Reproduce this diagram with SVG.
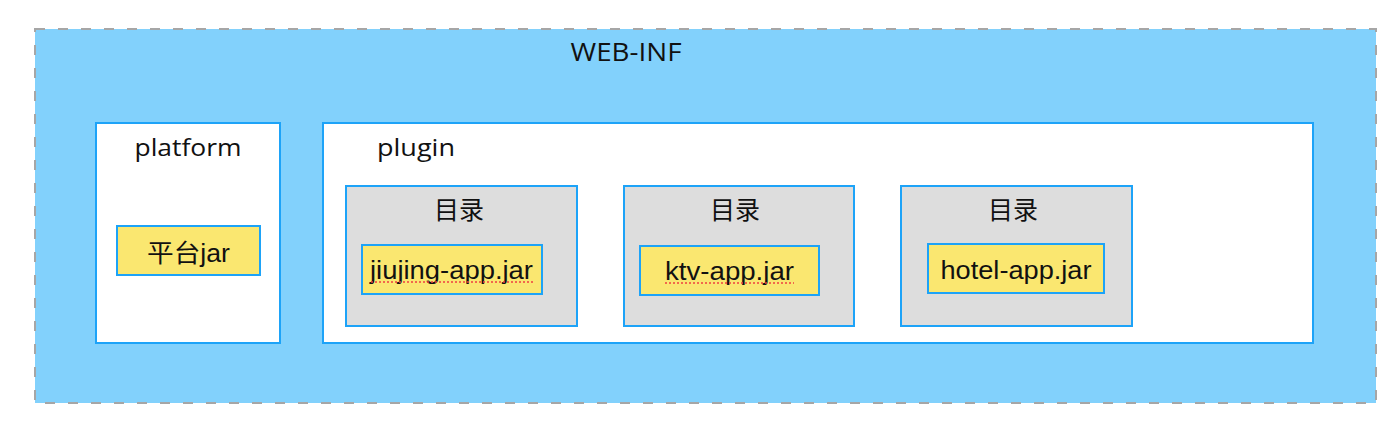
<svg xmlns="http://www.w3.org/2000/svg" width="1398" height="430" viewBox="0 0 1398 430">
<style>
.box{fill:#fff;stroke:#1DA3F8;stroke-width:2}
.dir{fill:#DDDDDD;stroke:#1DA3F8;stroke-width:2}
.jar{fill:#FAE770;stroke:#1DA3F8;stroke-width:2}
.t1{font-family:"Open Sans","Noto Sans",sans-serif;font-size:24px;fill:#111;text-anchor:middle}
.t2{font-family:"Liberation Sans",Arial,sans-serif;font-size:25px;fill:#111;text-anchor:middle}
.cjk{font-family:"Liberation Sans","Noto Sans CJK SC",sans-serif;font-size:25px;fill:#111;text-anchor:middle}
.sp{stroke:#F04040;stroke-width:1.5;stroke-dasharray:2 2;fill:none}
</style>
<rect width="1398" height="430" fill="#fff"/>
<g id="web-inf">
<rect x="35" y="29" width="1341" height="374" fill="#82D1FC" stroke="#A6A6A6" stroke-width="2" stroke-dasharray="10 13"/>
<text class="t1" x="626" y="61" textLength="111" lengthAdjust="spacingAndGlyphs" style="font-size:26px">WEB-INF</text>
</g>
<g id="platform">
<rect class="box" x="96" y="123" width="184" height="220"/>
<text class="t1" x="188" y="156" textLength="107" lengthAdjust="spacingAndGlyphs">platform</text>
</g>
<g id="platform-jar">
<rect class="jar" x="117" y="226" width="143" height="49"/>
<text class="cjk" x="188.5" y="262" textLength="83" lengthAdjust="spacingAndGlyphs">平台jar</text>
</g>
<g id="plugin">
<rect class="box" x="323" y="123" width="990" height="220"/>
<text class="t1" x="416" y="156" textLength="78" lengthAdjust="spacingAndGlyphs">plugin</text>
</g>
<g id="dir1">
<rect class="dir" x="346" y="186" width="231" height="140"/>
<text class="cjk" x="459" y="219">目录</text>
</g>
<g id="jar1">
<rect class="jar" x="362" y="245" width="180" height="49"/>
<text class="t2" x="451.5" y="279" textLength="163" lengthAdjust="spacingAndGlyphs">jiujing-app.jar</text>
<line class="sp" x1="371" y1="282" x2="533" y2="282"/>
</g>
<g id="dir2">
<rect class="dir" x="624" y="186" width="230" height="140"/>
<text class="cjk" x="735" y="219">目录</text>
</g>
<g id="jar2">
<rect class="jar" x="640" y="246" width="179" height="49"/>
<text class="t2" x="729.5" y="280" textLength="129" lengthAdjust="spacingAndGlyphs">ktv-app.jar</text>
<line class="sp" x1="665" y1="283" x2="794" y2="283"/>
</g>
<g id="dir3">
<rect class="dir" x="901" y="186" width="231" height="140"/>
<text class="cjk" x="1013" y="219">目录</text>
</g>
<g id="jar3">
<rect class="jar" x="928" y="244" width="176" height="49"/>
<text class="t2" x="1016" y="279" textLength="151" lengthAdjust="spacingAndGlyphs">hotel-app.jar</text>
</g>
<g id="connectors"></g>
</svg>
